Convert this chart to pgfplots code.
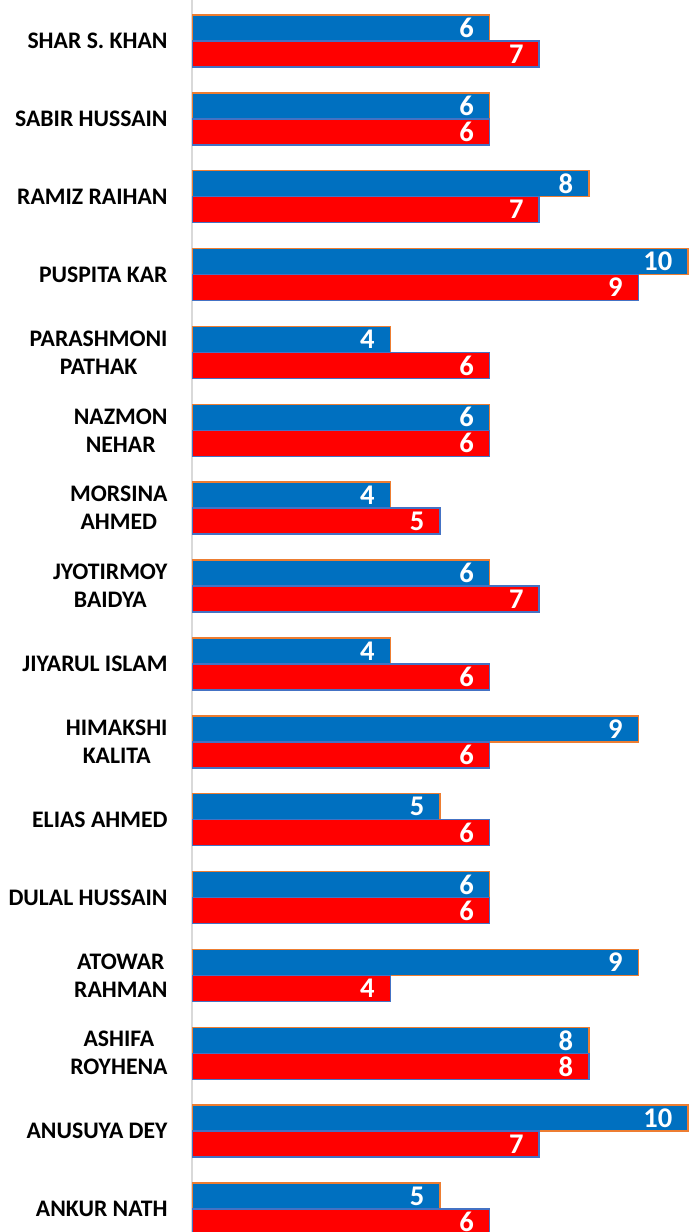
\documentclass[border=0pt]{standalone}
\usepackage{pgfplots}
\pgfplotsset{compat=1.18}
\usepackage{fontspec}
\setmainfont{Carlito}
\definecolor{barblue}{HTML}{0070C0}
\definecolor{barred}{HTML}{FF0000}
\definecolor{edgeorange}{HTML}{ED7D31}
\definecolor{edgeblue}{HTML}{4472C4}
\begin{document}
\begin{tikzpicture}
\begin{axis}[
  name=ax,
  scale only axis,
  width=497pt, height=1232pt,
  xbar, bar width=26pt,
  xmin=0, xmax=10.02,
  ymin=-0.295, ymax=15.526,
  axis x line=none,
  axis y line*=left,
  y axis line style={draw=gray!30, line width=1.5pt},
  ytick={0,...,15},
  ytick style={draw=none},
  yticklabels={{ANKUR NATH},{ANUSUYA DEY},{ASHIFA\\ROYHENA},{ATOWAR\\RAHMAN},{DULAL HUSSAIN},{ELIAS AHMED},{HIMAKSHI\\KALITA},{JIYARUL ISLAM},{JYOTIRMOY\\BAIDYA},{MORSINA\\AHMED},{NAZMON\\NEHAR},{PARASHMONI\\PATHAK},{PUSPITA KAR},{RAMIZ RAIHAN},{SABIR HUSSAIN},{SHAR S. KHAN}},
  yticklabel style={font=\fontsize{23.7}{28}\selectfont\bfseries, align=center, inner sep=0pt, xshift=-20pt},
  nodes near coords={\pgfmathprintnumber[assume math mode=true]{\pgfplotspointmeta}},
  nodes near coords style={font=\fontsize{28.5}{30}\selectfont\bfseries, text=white, anchor=east, inner sep=0pt, xshift=-15pt},
  clip=true,
]
\addplot[fill=barblue, draw=edgeorange, line width=1.5pt, bar shift=13pt] coordinates {
(5,0) (10,1) (8,2) (9,3) (6,4) (5,5) (9,6) (4,7) (6,8) (4,9) (6,10) (4,11) (10,12) (8,13) (6,14) (6,15)};
\addplot[fill=barred, draw=edgeblue, line width=1.5pt, bar shift=-13pt] coordinates {
(6,0) (7,1) (8,2) (4,3) (6,4) (6,5) (6,6) (6,7) (7,8) (5,9) (6,10) (6,11) (9,12) (7,13) (6,14) (7,15)};
\end{axis}
\pgfresetboundingbox
\path[use as bounding box] ([xshift=-192pt]ax.south west) rectangle (ax.north east);
\end{tikzpicture}
\end{document}
